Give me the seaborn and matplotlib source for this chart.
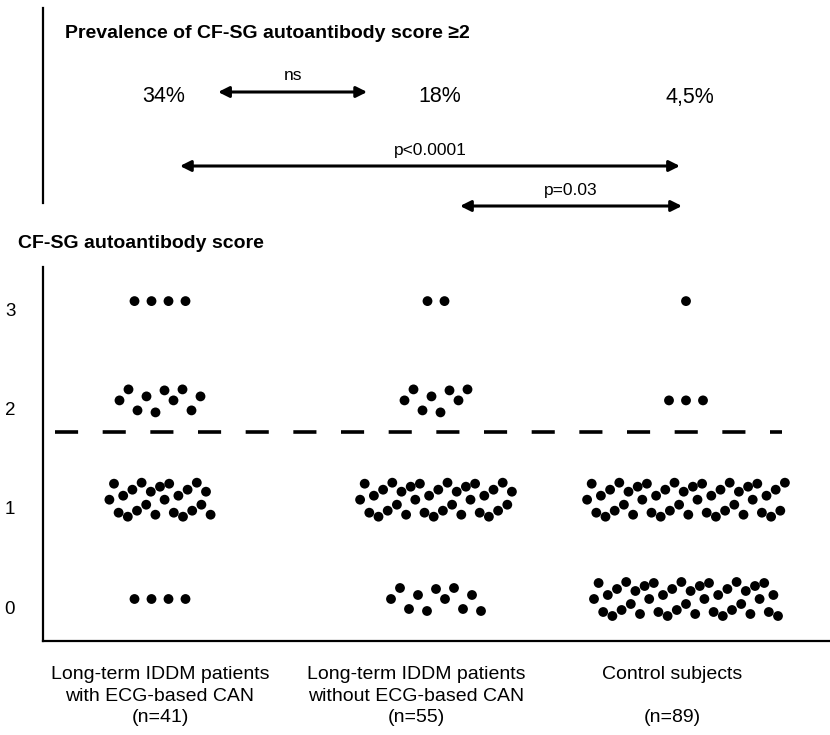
"""
Dot plot of CF-SG autoantibody scores by patient group, with prevalence panel.
"""
import numpy as np
import pandas as pd
import matplotlib
matplotlib.use("Agg")
import matplotlib.pyplot as plt
import matplotlib.transforms as mtransforms
from matplotlib import font_manager
import seaborn as sns

# --- data -------------------------------------------------------------
GROUP_LABELS = [
    "Long-term IDDM patients\nwith ECG-based CAN\n(n=41)",
    "Long-term IDDM patients\nwithout ECG-based CAN\n(n=55)",
    "Control subjects\n\n(n=89)",
]
SCORES = [0, 1, 2, 3]
COUNTS_CAN = [4, 23, 10, 4]
COUNTS_NO_CAN = [11, 34, 8, 2]
COUNTS_CONTROL = [41, 44, 3, 1]
PREVALENCE = ["34%", "18%", "4,5%"]
COMPARISONS = ["ns", "p<0.0001", "p=0.03"]
CUTOFF = 1.68

# --- layout (pixels of the 830x735 canvas) -----------------------------
W, H = 830, 735
AX_L, AX_R, AX_T, AX_B = 43, 830, 267, 641
X0_PX, X_STEP_PX = 160, 256      # pixel of group 0, pixels per group
Y0_PX, Y_STEP_PX = 599, 99.3     # pixel of score 0, pixels per score unit
CLUSTER_SHIFT_PX = [0, 20, 14]
# staggered vertical offsets so the bands don't look like a rigid grid
WIGGLE = [0, -16, 13, -4, 17, -10, 11, -17, 5, -8, 15, -13]
WIGGLE_SMALL = [0, -11, 10, -4, 12, -10]

installed = {f.name for f in font_manager.fontManager.ttflist}
BASE = "Liberation Sans Narrow" if "Liberation Sans Narrow" in installed else "Liberation Sans"
FAMILY = [BASE, "DejaVu Sans"]


def _px_x(px):
    return (px - X0_PX) / X_STEP_PX


def _band(n):
    """Offsets (pixels) for n dots sharing one score."""
    i = np.arange(n)
    if n <= 4:
        step, levels = 17.0, [0.0]
    elif n <= 12:
        step, levels = 9.0, WIGGLE_SMALL
    else:
        step, levels = 4.6, WIGGLE
    dx = (i - (n - 1) / 2) * step
    dy = np.array([levels[k % len(levels)] for k in i], dtype=float)
    return dx, dy


def build_points():
    rows = []
    for g, counts in enumerate([COUNTS_CAN, COUNTS_NO_CAN, COUNTS_CONTROL]):
        for score, n in zip(SCORES, counts):
            dx, dy = _band(n)
            for a, b in zip(dx, dy):
                rows.append({
                    "group": g, "score": score,
                    "x": g + (a + CLUSTER_SHIFT_PX[g]) / X_STEP_PX,
                    "y": score - b / Y_STEP_PX,
                })
    return pd.DataFrame(rows)


sns.set_theme(style="white")
plt.rcParams["font.family"] = FAMILY
plt.rcParams["text.color"] = "black"
plt.rcParams["xtick.color"] = "black"
plt.rcParams["ytick.color"] = "black"

fig = plt.figure(figsize=(W / 100, H / 100), dpi=100)
ax = fig.add_axes([AX_L / W, 1 - AX_B / H, (AX_R - AX_L) / W, (AX_B - AX_T) / H])

df = build_points()
sns.scatterplot(data=df, x="x", y="y", color="black", s=50, edgecolor="none",
                legend=False, ax=ax)

ax.set_xlim(_px_x(AX_L), _px_x(AX_R))
ax.set_ylim((Y0_PX - AX_B) / Y_STEP_PX, (Y0_PX - AX_T) / Y_STEP_PX)
ax.hlines(CUTOFF, _px_x(55), _px_x(782), color="black", lw=2.6,
          linestyles=(0, (6.4, 6.8)))

for side in ["top", "right"]:
    ax.spines[side].set_visible(False)
for side in ["left", "bottom"]:
    ax.spines[side].set_color("black")
    ax.spines[side].set_linewidth(1.6)

ax.set_yticks(SCORES)
ax.set_yticklabels([str(s) for s in SCORES], fontsize=13.5)
ax.set_xticks(range(len(GROUP_LABELS)))
ax.set_xticklabels(GROUP_LABELS, fontsize=14, linespacing=1.35)
ax.tick_params(axis="y", length=0, pad=20)
ax.tick_params(axis="x", length=0, pad=18)
shift = mtransforms.ScaledTranslation(0, -8 / 100, fig.dpi_scale_trans)
for lab in ax.get_yticklabels():
    lab.set_transform(lab.get_transform() + shift)
ax.set_xlabel("")
ax.set_ylabel("")

# --- prevalence panel ----------------------------------------------------
top = fig.add_axes([AX_L / W, 1 - 203 / H, (AX_R - AX_L) / W, (203 - 8) / H])
top.set_xlim(ax.get_xlim())
top.set_ylim(203, 8)
top.set_xticks([])
top.set_yticks([])
for side in ["top", "right", "bottom"]:
    top.spines[side].set_visible(False)
top.spines["left"].set_color("black")
top.spines["left"].set_linewidth(1.6)
top.patch.set_alpha(0)

for g, txt in enumerate(PREVALENCE):
    top.text(g + (CLUSTER_SHIFT_PX[g] + 4) / X_STEP_PX, 97, txt, ha="center",
             va="center", fontsize=15.5)

spans = [(0.227, 0.809, 92, 76), (0.078, 2.031, 166, 150), (1.172, 2.039, 206, 190)]
for label, (x1, x2, y, ty) in zip(COMPARISONS, spans):
    top.annotate("", xy=(x2, y), xytext=(x1, y), annotation_clip=False,
                 arrowprops=dict(arrowstyle="<|-|>", color="black", lw=2.2,
                                 mutation_scale=16, shrinkA=0, shrinkB=0))
    top.text((x1 + x2) / 2, ty, label, ha="center", va="center", fontsize=12.5,
             clip_on=False)

fig.text(65 / W, 1 - 33 / H, "Prevalence of CF-SG autoantibody score \u22652",
         fontsize=14, fontweight="bold", va="center", ha="left")
fig.text(18 / W, 1 - 243 / H, "CF-SG autoantibody score",
         fontsize=14, fontweight="bold", va="center", ha="left")

fig.savefig("out.png", dpi=100)
